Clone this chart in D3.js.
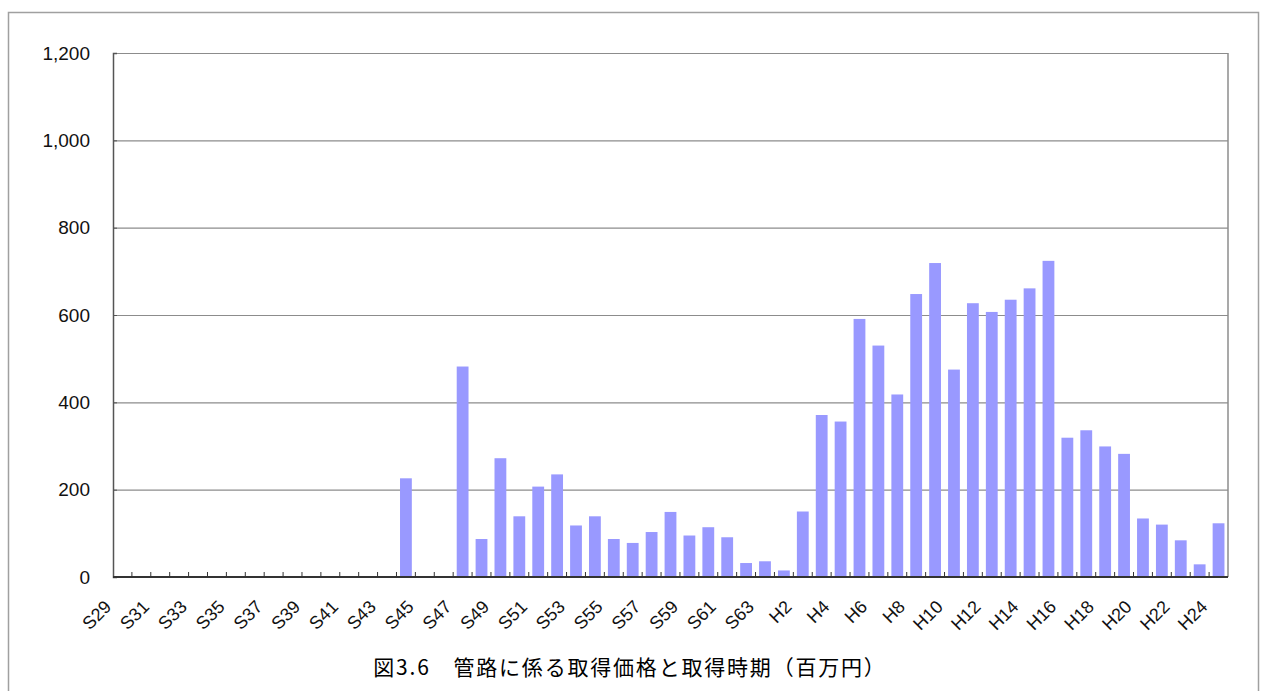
<!DOCTYPE html>
<html>
<head>
<meta charset="utf-8">
<script src="https://cdn.jsdelivr.net/npm/d3@7"></script>
<style>
  body { margin: 0; background: #fff; }
  svg { display: block; }
</style>
</head>
<body>
<div id="chart"></div>
<script>
// categories (Showa / Heisei fiscal years)
var categories = ["S29","S30","S31","S32","S33","S34","S35","S36","S37","S38","S39","S40",
    "S41","S42","S43","S44","S45","S46","S47","S48","S49","S50","S51","S52","S53","S54",
    "S55","S56","S57","S58","S59","S60","S61","S62","S63",
    "H1","H2","H3","H4","H5","H6","H7","H8","H9","H10","H11","H12","H13","H14","H15",
    "H16","H17","H18","H19","H20","H21","H22","H23","H24"];

// acquisition value (million yen)
var values = [0,0,0,0,0,0,0,0,0,0,0,0,
    0,0,0,226,0,0,482,87,272,139,207,235,118,139,
    87,78,103,149,95,114,91,32,36,
    15,150,371,356,591,530,418,648,719,475,627,607,635,661,
    724,319,336,299,282,134,120,84,29,123];

var tickLabels = ["S29","S31","S33","S35","S37","S39","S41","S43","S45","S47","S49","S51",
    "S53","S55","S57","S59","S61","S63","H2","H4","H6","H8","H10","H12","H14","H16",
    "H18","H20","H22","H24"];

var yTicks = [0, 200, 400, 600, 800, 1000, 1200];

var title = "図3.6　管路に係る取得価格と取得時期（百万円）";

var width = 1261,
    height = 691;
var margin = {top: 53, right: 33, bottom: 114, left: 113};
var plotW = width - margin.left - margin.right,
    plotH = height - margin.top - margin.bottom;

var svg = d3.select("#chart").append("svg")
    .attr("width", width)
    .attr("height", height)
    .style("font-family", "'Liberation Sans', Arial, sans-serif");

svg.append("rect")
    .attr("width", width)
    .attr("height", height)
    .attr("fill", "#fff");

// outer frame (runs off the bottom)
svg.append("rect")
    .attr("x", 8.5)
    .attr("y", 12.5)
    .attr("width", 1250)
    .attr("height", 720)
    .attr("fill", "none")
    .attr("stroke", "#a0a0a0")
    .attr("stroke-width", 1.5);

var x = d3.scaleBand()
    .domain(categories)
    .range([0, plotW])
    .paddingInner(0.375)
    .paddingOuter(0.1875);

var y = d3.scaleLinear()
    .domain([0, 1200])
    .range([plotH, 0]);

var g = svg.append("g")
    .attr("transform", "translate(" + margin.left + "," + margin.top + ")");

// gridlines
g.append("g")
    .attr("class", "grid")
    .call(d3.axisLeft(y).tickValues(yTicks.slice(1)).tickSize(-plotW).tickFormat(""))
    .call(function (s) { s.select(".domain").remove(); })
    .selectAll("line")
    .attr("stroke", "#8c8c8c")
    .attr("stroke-width", 1.2);

// right border
g.append("line")
    .attr("x1", plotW).attr("x2", plotW)
    .attr("y1", 0).attr("y2", plotH)
    .attr("stroke", "#8c8c8c")
    .attr("stroke-width", 1.5);

// bars
g.selectAll(".bar")
    .data(values)
    .enter().append("rect")
    .attr("class", "bar")
    .attr("x", function (d, i) { return x(categories[i]); })
    .attr("width", x.bandwidth())
    .attr("y", function (d) { return y(d); })
    .attr("height", function (d) { return plotH - y(d); })
    .attr("fill", "#9999ff");

// y axis
var yAxis = g.append("g")
    .call(d3.axisLeft(y).tickValues(yTicks).tickSize(-4).tickPadding(23)
        .tickFormat(d3.format(",")));
yAxis.select(".domain").attr("stroke", "#555").attr("stroke-width", 1.5);
yAxis.selectAll(".tick line").attr("stroke", "#555");
yAxis.selectAll("text")
    .attr("font-size", 19)
    .attr("fill", "#111");

// x axis line and inward ticks on category boundaries
g.append("line")
    .attr("x1", 0).attr("x2", plotW)
    .attr("y1", plotH).attr("y2", plotH)
    .attr("stroke", "#333")
    .attr("stroke-width", 1.8);

g.selectAll(".xtick")
    .data(categories.slice(1))
    .enter().append("line")
    .attr("class", "xtick")
    .attr("x1", function (d) { return x(d) - x.step() * x.paddingInner() / 2; })
    .attr("x2", function (d) { return x(d) - x.step() * x.paddingInner() / 2; })
    .attr("y1", plotH)
    .attr("y2", plotH - 5)
    .attr("stroke", "#333");

// x labels, rotated
g.selectAll(".xlabel")
    .data(tickLabels)
    .enter().append("text")
    .attr("class", "xlabel")
    .attr("transform", function (d) {
        var cx = x(d) + x.bandwidth() / 2 - 10;
        return "translate(" + cx + "," + (plotH + 31) + ") rotate(-45)";
    })
    .attr("text-anchor", "end")
    .attr("font-size", 18)
    .attr("fill", "#111")
    .text(function (d) { return d; });

// caption
svg.append("text")
    .attr("x", 630)
    .attr("y", 675)
    .attr("text-anchor", "middle")
    .attr("font-family", "'Noto Sans CJK JP', sans-serif")
    .attr("font-size", 21)
    .attr("letter-spacing", 1.8)
    .attr("fill", "#000")
    .text(title);
</script>
</body>
</html>
